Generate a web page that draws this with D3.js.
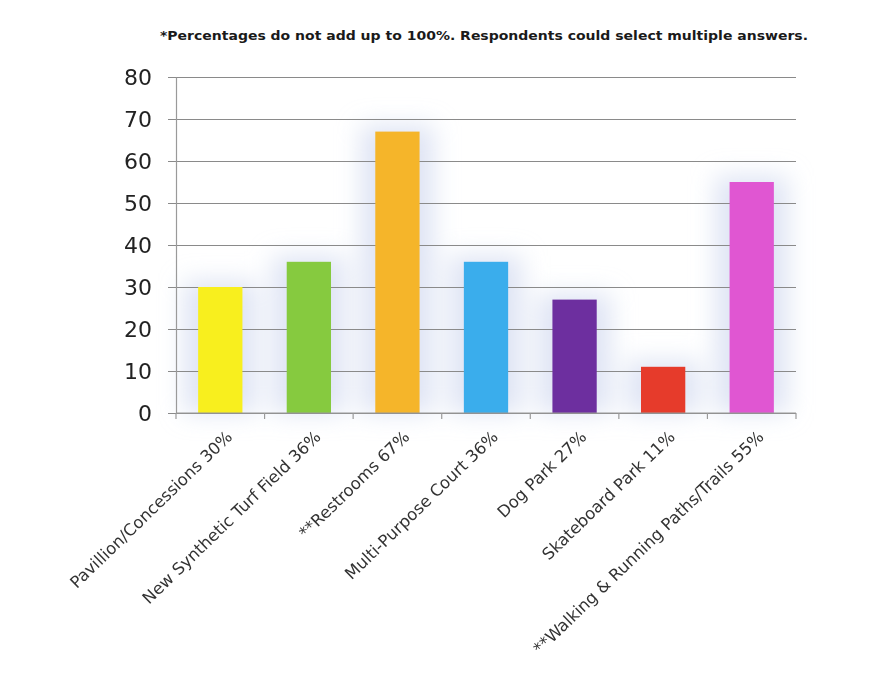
<!DOCTYPE html>
<html><head><meta charset="utf-8">
<script src="https://cdn.jsdelivr.net/npm/d3@7"></script>
<style>body{margin:0;background:#fff}svg{display:block}</style>
</head><body>
<script>
const categories = ["Pavillion/Concessions 30%","New Synthetic Turf Field 36%","**Restrooms 67%","Multi-Purpose Court 36%","Dog Park 27%","Skateboard Park 11%","**Walking & Running Paths/Trails 55%"];
const values = [30, 36, 67, 36, 27, 11, 55];
const colors = ["#f8ef1e","#86ca3f","#f5b52a","#3aadec","#6d2f9f","#e63b2b","#e056d2"];
const yTicks = [0,10,20,30,40,50,60,70,80];
const note = "*Percentages do not add up to 100%. Respondents could select multiple answers.";

const W = 879, H = 673;
const m = {left:176, right:83, top:77, bottom:260};
const svg = d3.select("body").append("svg").attr("width",W).attr("height",H);

const defs = svg.append("defs");
const f = defs.append("filter").attr("id","glow").attr("x","-80%").attr("y","-30%").attr("width","260%").attr("height","160%");
f.append("feGaussianBlur").attr("stdDeviation",12);

const x = d3.scaleBand().domain(categories).range([m.left, W-m.right]).paddingInner(0.5).paddingOuter(0.25);
const y = d3.scaleLinear().domain([0,80]).range([H-m.bottom, m.top]);

// soft bluish haze behind bars
svg.append("g").attr("filter","url(#glow)").selectAll("rect").data(values).join("rect")
  .attr("x",(d,i)=>x(categories[i])-14).attr("width",x.bandwidth()+28)
  .attr("y",d=>y(d)-6).attr("height",d=>y(0)-y(d)+6)
  .attr("fill","#cdd6ee").attr("opacity",0.65);

// gridlines
svg.append("g").attr("transform",`translate(${m.left},0)`)
  .call(d3.axisLeft(y).tickValues(yTicks).tickSize(-(W-m.left-m.right)).tickFormat(""))
  .call(g=>g.select(".domain").remove())
  .call(g=>g.selectAll("line").attr("stroke","#8a8a8a").attr("stroke-width",1.2).attr("x1",-8));

// bars
svg.append("g").selectAll("rect").data(values).join("rect")
  .attr("x",(d,i)=>x(categories[i])).attr("width",x.bandwidth())
  .attr("y",d=>y(d)).attr("height",d=>y(0)-y(d))
  .attr("fill",(d,i)=>colors[i]);

// y axis
const ya = svg.append("g").attr("transform",`translate(${m.left},0)`)
  .call(d3.axisLeft(y).tickValues(yTicks).tickSize(0).tickPadding(24));
ya.select(".domain").attr("stroke","#9a9a9a").attr("stroke-width",1.2);
ya.selectAll("text").attr("font-family","'DejaVu Sans', sans-serif").attr("font-size",22).attr("fill","#222");

// x axis
const bw = x.step();
const xa = svg.append("g").attr("transform",`translate(0,${y(0)})`);
xa.append("line").attr("x1",m.left).attr("x2",W-m.right).attr("stroke","#9a9a9a").attr("stroke-width",1.2);
xa.selectAll("line.t").data(d3.range(categories.length+1)).join("line").attr("class","t")
  .attr("x1",i=>m.left+i*bw).attr("x2",i=>m.left+i*bw).attr("y1",0).attr("y2",6)
  .attr("stroke","#9a9a9a").attr("stroke-width",1.2);

xa.selectAll("text").data(categories).join("text")
  .attr("transform",d=>`translate(${x(d)+x.bandwidth()/2+13},25) rotate(-44)`)
  .attr("text-anchor","end")
  .attr("font-family","'DejaVu Sans', sans-serif").attr("font-size",16.5).attr("fill","#333")
  .text(d=>d);

// note
svg.append("text").attr("x",160).attr("y",40)
  .attr("font-family","'DejaVu Sans', sans-serif").attr("font-weight","bold").attr("font-size",13)
  .attr("textLength",648).attr("lengthAdjust","spacingAndGlyphs").attr("fill","#1a1a1a")
  .text(note);
</script>
</body></html>
